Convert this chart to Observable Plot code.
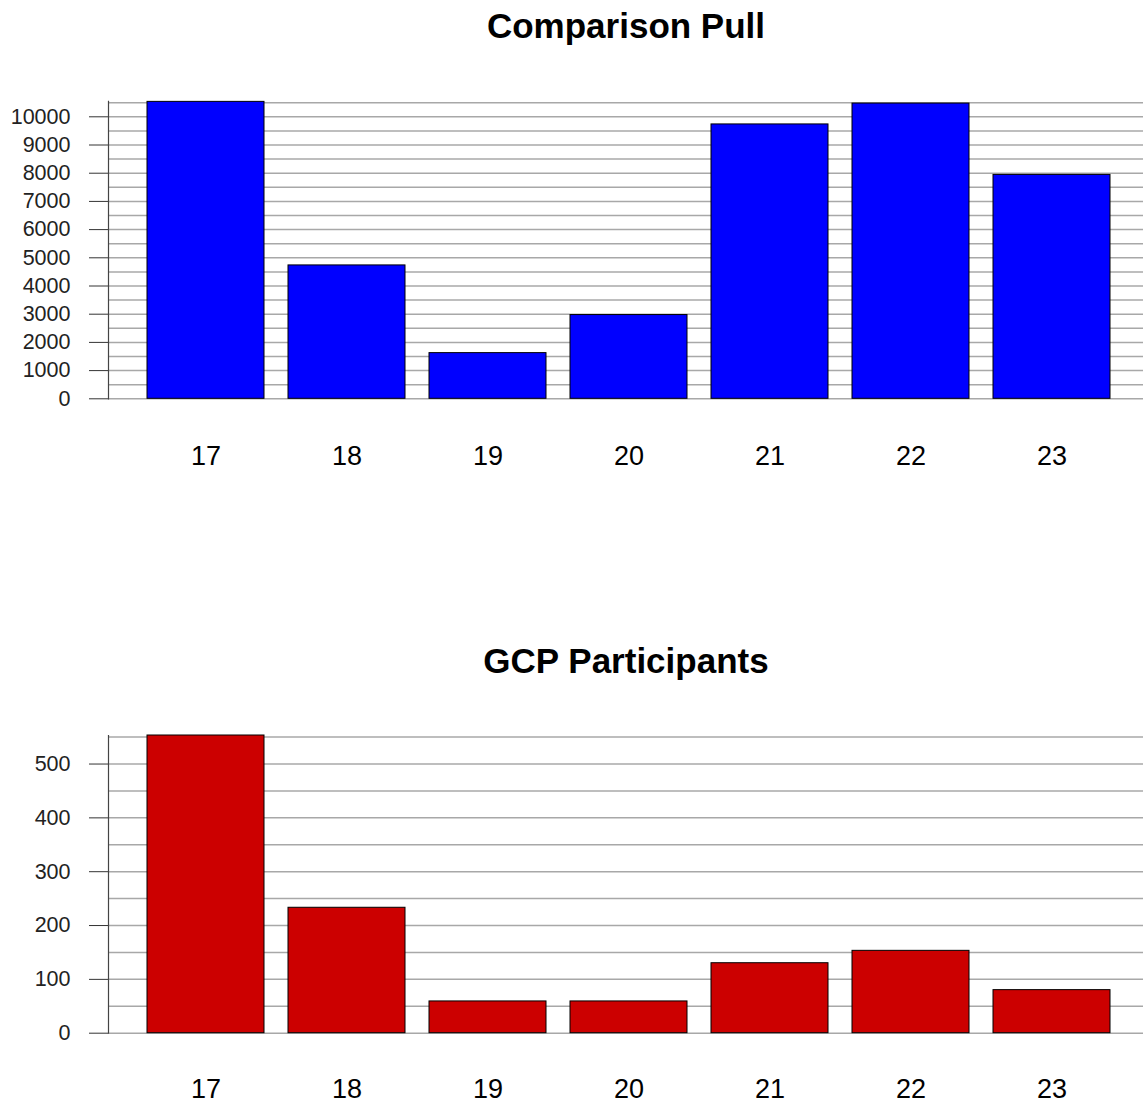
<!DOCTYPE html>
<html>
<head>
<meta charset="utf-8">
<script src="https://cdn.jsdelivr.net/npm/d3@7"></script>
<script src="https://cdn.jsdelivr.net/npm/@observablehq/plot@0.6"></script>
<style>
  html, body { margin: 0; padding: 0; background: #fff; overflow: hidden; }
  #wrap { position: relative; width: 1143px; height: 1104px; font-family: "Liberation Sans", Arial, sans-serif; }
  .title { position: absolute; z-index: 2; left: 109px; width: 1034px; text-align: center; font-size: 35px; line-height: 35px; font-weight: bold; color: #000; }
  .chart { position: absolute; left: 0; z-index: 1; }
</style>
</head>
<body>
<div id="wrap">
  <div class="chart" id="c1" style="top:0px"></div>
  <div class="chart" id="c2" style="top:600px"></div>
  <div class="title" style="top:7.5px">Comparison Pull</div>
  <div class="title" style="top:642.5px">GCP Participants</div>
</div>
<script>
const years = ["17", "18", "19", "20", "21", "22", "23"];
const comparisonPull = [10530, 4730, 1620, 2970, 9730, 10470, 7940];
const gcpParticipants = [553, 233, 59, 59, 130, 153, 80];

const pullTicks = d3.range(0, 10001, 1000);
const pullGrid = d3.range(0, 10501, 500);
const partTicks = d3.range(0, 501, 100);
const partGrid = d3.range(0, 551, 50);

function chart({values, fill, yMax, ticks, grid, height, zeroY, topY, labelBase}) {
  const data = years.map((y, i) => ({year: y, value: values[i]}));
  return Plot.plot({
    width: 1143,
    height,
    marginLeft: 108,
    marginRight: 0,
    marginTop: topY,
    marginBottom: height - zeroY,
    style: {fontFamily: "'Liberation Sans', Arial, sans-serif", background: "white", overflow: "visible"},
    x: {type: "band", domain: years, range: [107, 1151], paddingInner: 0.1667, paddingOuter: 0.269},
    y: {domain: [0, yMax], range: [zeroY, topY]},
    marks: [
      Plot.gridY(grid, {stroke: "#a8a8a8", strokeOpacity: 1, strokeWidth: 1.5}),
      Plot.barY(data, {x: "year", y: "value", fill, stroke: "#000", strokeWidth: 1, inset: 0}),
      Plot.frame({anchor: "left", stroke: "#444", strokeWidth: 1.2}),
      Plot.axisY({ticks, tickSize: 19, tickPadding: 19, fontSize: 21.5, stroke: "#333", color: "#222", label: null, tickFormat: d => String(d)}),
      Plot.axisX({tickSize: 0, tickPadding: labelBase - zeroY - 19.2, fontSize: 27, color: "#000", label: null})
    ]
  });
}

document.getElementById("c1").appendChild(chart({
  values: comparisonPull, fill: "#0000ff", yMax: 10550,
  ticks: pullTicks, grid: pullGrid, height: 480, zeroY: 398.3, topY: 100.8, labelBase: 465
}));
document.getElementById("c2").appendChild(chart({
  values: gcpParticipants, fill: "#cc0000", yMax: 553,
  ticks: partTicks, grid: partGrid, height: 504, zeroY: 432.7, topY: 135, labelBase: 498
}));
</script>
</body>
</html>
